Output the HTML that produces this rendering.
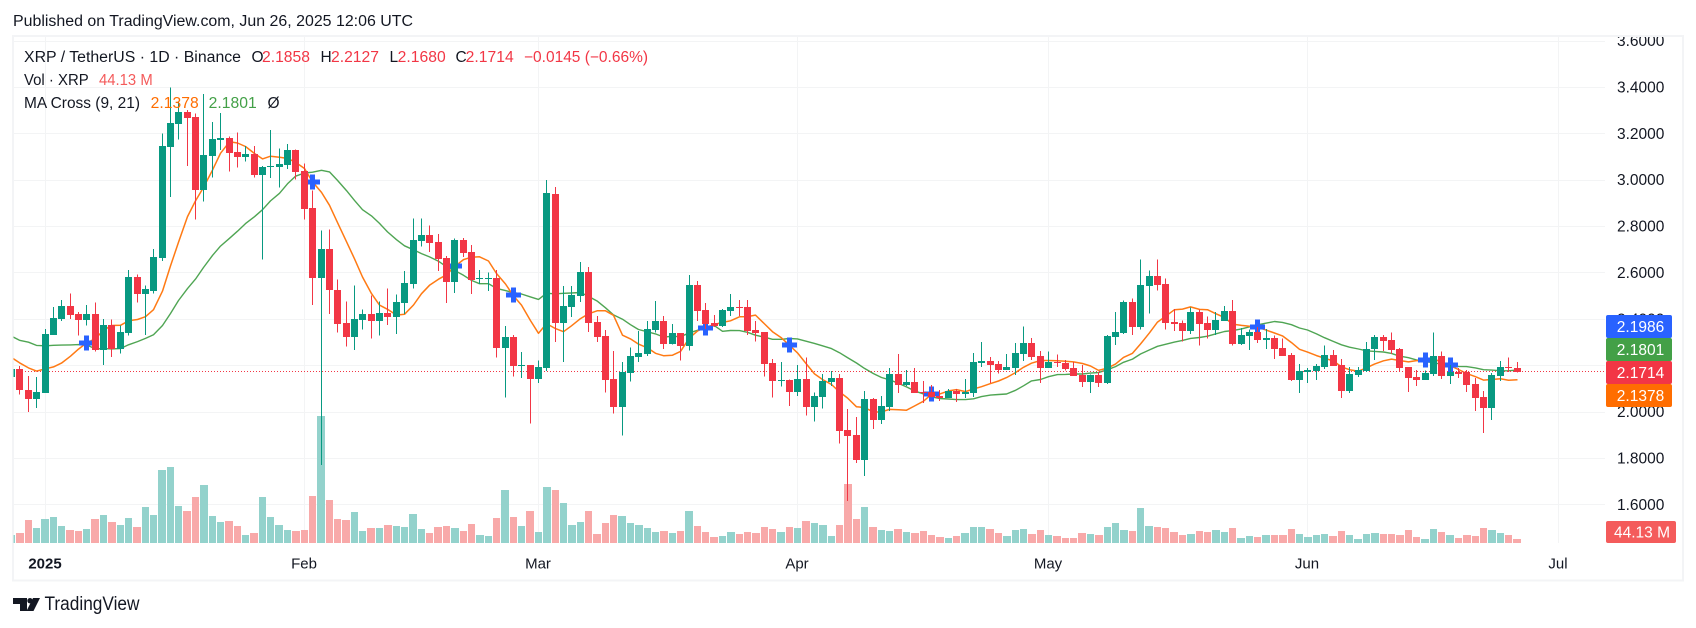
<!DOCTYPE html>
<html lang="en">
<head>
<meta charset="utf-8">
<title>XRP / TetherUS 1D chart</title>
<style>
html,body{margin:0;padding:0;background:#fff;width:1696px;height:628px;overflow:hidden}
svg{display:block}
text{font-family:"Liberation Sans",Arial,sans-serif;fill:#131722}
.leg{font-size:15.5px}
.axis{font-size:15.5px}
.tag{font-size:15.5px;fill:#fff;text-anchor:middle}
</style>
</head>
<body>
<svg id="chart" xmlns="http://www.w3.org/2000/svg" width="1696" height="628" viewBox="0 0 1696 628">
  <defs>
    <clipPath id="pane"><rect x="13.5" y="37" width="1591.5" height="506"/></clipPath>
    <clipPath id="axisClip"><rect x="1605" y="37" width="77" height="506"/></clipPath>
  </defs>
  <rect x="0" y="0" width="1696" height="628" fill="#ffffff"/>
  <text x="13" y="26" font-size="15.5" textLength="400" lengthAdjust="spacingAndGlyphs" fill="#222">Published on TradingView.com, Jun 26, 2025 12:06 UTC</text>
  <rect x="13" y="36" width="1670" height="544.5" fill="none" stroke="#f3f4f6" stroke-width="2"/>
  <g id="gridLayer"></g>
  <g id="plotLayer" clip-path="url(#pane)"></g>
  <g id="axisLayer" clip-path="url(#axisClip)"></g>
  <g id="timeLayer"></g>

  <g>
    <text class="leg" x="24" y="62" textLength="217" lengthAdjust="spacingAndGlyphs">XRP / TetherUS · 1D · Binance</text>
    <text class="leg" x="251.5" y="62">O</text>
    <text class="leg" x="262" y="62" style="fill:#f23645" textLength="48" lengthAdjust="spacingAndGlyphs">2.1858</text>
    <text class="leg" x="320.5" y="62">H</text>
    <text class="leg" x="331" y="62" style="fill:#f23645" textLength="48" lengthAdjust="spacingAndGlyphs">2.2127</text>
    <text class="leg" x="389.5" y="62">L</text>
    <text class="leg" x="397.7" y="62" style="fill:#f23645" textLength="48" lengthAdjust="spacingAndGlyphs">2.1680</text>
    <text class="leg" x="455.5" y="62">C</text>
    <text class="leg" x="465.7" y="62" style="fill:#f23645" textLength="48" lengthAdjust="spacingAndGlyphs">2.1714</text>
    <text class="leg" x="524" y="62" style="fill:#f23645" textLength="124" lengthAdjust="spacingAndGlyphs">−0.0145 (−0.66%)</text>
    <text class="leg" x="24" y="85" textLength="64.7" lengthAdjust="spacingAndGlyphs">Vol · XRP</text>
    <text class="leg" x="99" y="85" style="fill:#f45b5b" textLength="53.7" lengthAdjust="spacingAndGlyphs">44.13 M</text>
    <text class="leg" x="24" y="108" textLength="116" lengthAdjust="spacingAndGlyphs">MA Cross (9, 21)</text>
    <text class="leg" x="150.7" y="108" style="fill:#ff6d00" textLength="48" lengthAdjust="spacingAndGlyphs">2.1378</text>
    <text class="leg" x="208.7" y="108" style="fill:#43a047" textLength="48" lengthAdjust="spacingAndGlyphs">2.1801</text>
    <text class="leg" x="267.5" y="108">Ø</text>
  </g>

  <g>
    <rect x="1606" y="315" width="66" height="23" rx="2" fill="#2962ff"/>
    <text class="tag" x="1640.5" y="332">2.1986</text>
    <rect x="1606" y="338" width="66" height="23" rx="2" fill="#43a047"/>
    <text class="tag" x="1640.5" y="355">2.1801</text>
    <rect x="1606" y="361" width="66" height="23" rx="2" fill="#f23645"/>
    <text class="tag" x="1640.5" y="378">2.1714</text>
    <rect x="1606" y="384" width="66" height="23" rx="2" fill="#ff6d00"/>
    <text class="tag" x="1640.5" y="401">2.1378</text>
    <rect x="1606" y="521" width="70" height="22" rx="2" fill="#f45b5b"/>
    <text class="tag" x="1642" y="537.5">44.13 M</text>
  </g>

  <g>
    <path d="M13 598h14v13h-7v-7h-7z M33 598h7l-6.5 13h-7z" fill="#131722"/>
    <circle cx="30" cy="600.7" r="2.7" fill="#131722"/>
    <text x="44.5" y="610" font-size="19" textLength="95" lengthAdjust="spacingAndGlyphs">TradingView</text>
  </g>
</svg>

<script>
// Daily candles, first value is day -4 relative to Jan 1 2025 (Dec 28 2024)
const firstDay = -4;
const opens = [
2.147,2.184,2.093,2.055,2.08,2.331,2.40,2.456,2.42,2.396,
2.42,2.266,2.374,2.27,2.34,2.58,2.505,2.52,2.66,3.141,
3.239,3.291,3.27,2.954,3.10,3.17,3.179,3.118,3.096,3.109,
3.019,3.055,3.053,3.062,3.127,3.036,2.876,2.574,2.70,2.526,
2.383,2.322,2.396,2.42,2.39,2.426,2.409,2.47,2.552,2.734,
2.761,2.731,2.662,2.558,2.74,2.688,2.572,2.572,2.575,2.273,
2.321,2.195,2.2,2.139,2.187,2.938,2.381,2.45,2.498,2.601,
2.385,2.325,2.139,2.018,2.165,2.234,2.247,2.351,2.39,2.29,
2.338,2.282,2.545,2.437,2.381,2.368,2.433,2.45,2.45,2.351,
2.342,2.208,2.131,2.135,2.083,2.139,2.018,2.062,2.126,2.144,
1.92,1.899,1.791,2.055,1.964,2.02,2.163,2.115,2.128,2.085,
2.085,2.067,2.059,2.089,2.076,2.08,2.21,2.219,2.206,2.18,
2.188,2.249,2.296,2.24,2.188,2.214,2.21,2.188,2.158,2.128,
2.158,2.124,2.322,2.34,2.474,2.366,2.543,2.586,2.551,2.387,
2.383,2.348,2.43,2.383,2.353,2.392,2.435,2.292,2.327,2.344,
2.309,2.318,2.275,2.245,2.137,2.171,2.176,2.193,2.245,2.201,
2.089,2.158,2.176,2.27,2.322,2.309,2.27,2.193,2.15,2.137,
2.163,2.24,2.154,2.171,2.171,2.119,2.063,2.016,2.154,2.193,
2.1858];
const highs = [
2.19,2.197,2.154,2.15,2.357,2.45,2.48,2.51,2.43,2.46,
2.47,2.40,2.396,2.37,2.61,2.59,2.543,2.70,3.20,3.397,
3.338,3.30,3.285,3.369,3.248,3.287,3.187,3.204,3.144,3.144,
3.058,3.213,3.135,3.153,3.131,3.07,2.954,2.781,2.785,2.57,
2.474,2.543,2.44,2.50,2.474,2.53,2.504,2.606,2.833,2.833,
2.803,2.766,2.671,2.747,2.748,2.718,2.61,2.60,2.61,2.368,
2.329,2.256,2.2,2.221,2.999,2.969,2.541,2.541,2.645,2.623,
2.411,2.351,2.26,2.213,2.277,2.347,2.39,2.476,2.411,2.377,
2.338,2.588,2.563,2.468,2.416,2.442,2.506,2.48,2.48,2.39,
2.342,2.226,2.213,2.139,2.2,2.234,2.083,2.161,2.174,2.161,
2.012,1.977,2.089,2.059,2.068,2.188,2.249,2.18,2.188,2.132,
2.115,2.093,2.098,2.098,2.141,2.253,2.30,2.236,2.219,2.249,
2.296,2.366,2.318,2.262,2.258,2.245,2.223,2.214,2.201,2.16,
2.171,2.331,2.43,2.478,2.487,2.655,2.608,2.655,2.573,2.443,
2.392,2.448,2.439,2.409,2.43,2.456,2.482,2.36,2.353,2.364,
2.357,2.327,2.314,2.253,2.206,2.188,2.206,2.284,2.266,2.227,
2.193,2.193,2.30,2.331,2.331,2.34,2.275,2.193,2.18,2.176,
2.34,2.258,2.20,2.188,2.18,2.145,2.089,2.167,2.219,2.232,
2.2127];
const lows = [
2.14,2.073,1.998,2.016,2.08,2.33,2.39,2.40,2.327,2.37,
2.258,2.20,2.236,2.25,2.327,2.47,2.331,2.51,2.65,2.925,
3.174,3.058,2.829,2.906,3.01,3.127,3.036,3.053,3.079,3.01,
2.656,3.006,2.967,3.045,3.0,2.829,2.46,1.77,2.42,2.34,
2.28,2.266,2.353,2.314,2.327,2.374,2.335,2.42,2.53,2.712,
2.688,2.606,2.468,2.511,2.666,2.506,2.55,2.519,2.234,2.061,
2.152,2.144,1.949,2.122,2.174,2.299,2.213,2.407,2.472,2.342,
2.299,2.083,1.992,1.897,2.13,2.213,2.239,2.34,2.269,2.29,
2.221,2.264,2.39,2.355,2.364,2.364,2.411,2.411,2.329,2.303,
2.152,2.061,2.109,2.023,2.066,1.984,1.958,2.014,2.11,1.863,
1.615,1.779,1.722,1.925,1.947,2.003,2.08,2.111,2.08,2.037,
2.06,2.046,2.059,2.042,2.059,2.063,2.193,2.124,2.163,2.18,
2.158,2.219,2.223,2.124,2.188,2.193,2.176,2.154,2.106,2.08,
2.106,2.119,2.288,2.335,2.331,2.353,2.422,2.521,2.353,2.348,
2.301,2.335,2.284,2.314,2.331,2.392,2.284,2.288,2.266,2.296,
2.27,2.227,2.24,2.132,2.08,2.124,2.137,2.184,2.197,2.059,
2.08,2.15,2.17,2.223,2.262,2.249,2.171,2.085,2.111,2.137,
2.154,2.141,2.119,2.145,2.085,2.003,1.908,1.964,2.132,2.171,
2.168];
const closes = [
2.184,2.091,2.055,2.085,2.335,2.404,2.456,2.417,2.396,2.42,
2.266,2.374,2.27,2.344,2.58,2.505,2.527,2.665,3.145,3.243,
3.291,3.265,2.954,3.105,3.174,3.179,3.114,3.096,3.109,3.019,
3.053,3.06,3.066,3.127,3.032,2.872,2.574,2.70,2.522,2.378,
2.322,2.40,2.42,2.39,2.426,2.409,2.474,2.556,2.738,2.76,
2.727,2.658,2.558,2.74,2.684,2.567,2.575,2.575,2.273,2.321,
2.195,2.2,2.139,2.191,2.943,2.381,2.455,2.502,2.601,2.381,
2.32,2.135,2.018,2.169,2.239,2.252,2.355,2.39,2.29,2.338,
2.282,2.545,2.433,2.377,2.368,2.437,2.45,2.447,2.347,2.338,
2.204,2.131,2.135,2.083,2.139,2.018,2.066,2.131,2.144,1.915,
1.895,1.792,2.055,1.964,2.024,2.163,2.115,2.128,2.08,2.079,
2.063,2.059,2.089,2.076,2.085,2.214,2.219,2.201,2.18,2.193,
2.253,2.296,2.236,2.188,2.214,2.21,2.184,2.154,2.128,2.158,
2.124,2.327,2.344,2.474,2.366,2.547,2.586,2.547,2.383,2.379,
2.348,2.43,2.379,2.353,2.396,2.435,2.292,2.331,2.344,2.309,
2.318,2.27,2.24,2.137,2.176,2.18,2.197,2.245,2.197,2.089,
2.163,2.18,2.27,2.322,2.305,2.266,2.188,2.145,2.137,2.167,
2.24,2.154,2.171,2.163,2.115,2.059,2.016,2.158,2.193,2.188,
2.1714];
// Volume in millions of XRP
const volumes = [
88,110,253,165,264,286,187,143,132,154,
264,308,231,198,275,176,396,308,803,836,
407,352,506,638,297,231,242,187,88,110,
506,286,198,143,132,143,517,1397,473,264,
253,341,132,165,165,198,187,176,319,154,
110,176,187,165,132,209,88,77,275,583,
286,187,352,121,616,583,440,198,231,352,
99,220,308,297,220,198,165,121,132,110,
132,352,187,121,66,77,121,99,121,110,
176,154,121,176,165,242,220,198,77,198,
649,264,396,176,143,132,154,121,110,132,
88,66,55,77,110,176,176,154,110,77,
143,154,99,143,88,77,55,55,110,99,
88,176,220,143,132,385,187,176,165,121,
88,99,132,121,143,121,165,55,77,66,
88,88,88,154,99,66,88,99,77,132,
88,44,99,110,99,99,88,143,66,44,
154,121,88,55,88,77,165,143,110,88,
44.13];
// Closes before the visible range (20 days), estimated from the MA lines at the left edge
const priorCloses = [2.47,2.225,2.375,2.375,2.36,2.43,2.40,2.375,2.44,2.63,2.35,2.30,2.30,2.25,2.21,2.245,2.33,2.31,2.15,2.12];
const maFastLength = 9;
const maSlowLength = 21;
const crossDays = [5,32,49,56,79,89,106,145,165,168];
const crossPrices = [2.295,2.991,2.626,2.501,2.362,2.289,2.075,2.364,2.222,2.2];
const priceTicks = [3.6,3.4,3.2,3.0,2.8,2.6,2.4,2.2,2.0,1.8,1.6];
const monthLabels = ["2025","Feb","Mar","Apr","May","Jun","Jul"];
const monthDays = [0,31,59,90,120,151,181];
const lastPrice = 2.1714;

const UP = "#089981", DOWN = "#f23645", VOL_UP = "#93d2cc", VOL_DOWN = "#f8a9a9", GRID = "#f3f4f5";
const NS = "http://www.w3.org/2000/svg";
const gridLayer = document.getElementById("gridLayer");
const plotLayer = document.getElementById("plotLayer");
const axisLayer = document.getElementById("axisLayer");
const timeLayer = document.getElementById("timeLayer");

function xScale(day){ return Math.floor(45 + 8.364 * day) + 0.5; }
function volLeft(day){ return Math.round(41.3 + 8.364 * day); }
function yScale(price){ return 40.5 + (3.6 - price) * 231.9; }
function volHeight(v){ return v / 11; }
function make(tag, attrs, parent){
  const el = document.createElementNS(NS, tag);
  for (const k in attrs) el.setAttribute(k, attrs[k]);
  parent.appendChild(el);
  return el;
}
function sma(series, length, index){
  let sum = 0;
  for (let i = index - length + 1; i <= index; i++) sum += series[i];
  return sum / length;
}

// grid
priceTicks.forEach(function(p){
  const y = Math.round(yScale(p)) + 0.5;
  const el = make("line", {x1:13.5, x2:1605, y1:y, y2:y, stroke:GRID, "stroke-width":1}, gridLayer);
  
  
});
monthDays.forEach(function(d){
  const x = xScale(d);
  const el = make("line", {x1:x, x2:x, y1:37, y2:543, stroke:GRID, "stroke-width":1}, gridLayer);
  
  
});

// volume
volumes.forEach(function(v, i){
  const d = firstDay + i;
  const h = volHeight(v);
  const left = volLeft(d);
  const el = make("rect", {x:left, y:543 - h, width:volLeft(d + 1) - 1 - left, height:h, fill:closes[i] >= opens[i] ? VOL_UP : VOL_DOWN, "shape-rendering":"crispEdges"}, plotLayer);
  
  
});

// moving averages
const allCloses = priorCloses.concat(closes);
function maPoints(length){
  const pts = [];
  closes.forEach(function(c, i){
    const v = sma(allCloses, length, i + priorCloses.length);
    pts.push(xScale(firstDay + i).toFixed(1) + "," + yScale(v).toFixed(1));
  });
  return pts.join(" ");
}
const maSlowLine = make("polyline", {points:maPoints(maSlowLength), fill:"none", stroke:"#4fa553", "stroke-width":1.4, "stroke-linejoin":"round"}, plotLayer);


const maFastLine = make("polyline", {points:maPoints(maFastLength), fill:"none", stroke:"#ff7a14", "stroke-width":1.5, "stroke-linejoin":"round"}, plotLayer);



// cross markers
crossDays.forEach(function(d, i){
  const x = xScale(d), y = Math.round(yScale(crossPrices[i]));
  const g = make("g", {fill:"#2962ff", "shape-rendering":"crispEdges"}, plotLayer);
  
  
  make("rect", {x:x - 7.5, y:y - 2.5, width:15, height:5}, g);
  make("rect", {x:x - 2.5, y:y - 7.5, width:5, height:15}, g);
});

// last price line
const priceLine = make("line", {x1:13, x2:1605, y1:Math.floor(yScale(lastPrice)) + 0.5, y2:Math.floor(yScale(lastPrice)) + 0.5, stroke:"#f23645", "stroke-width":1, "stroke-dasharray":"1 2", "shape-rendering":"crispEdges"}, plotLayer);



// candles
closes.forEach(function(c, i){
  const d = firstDay + i, o = opens[i];
  const col = c >= o ? UP : DOWN;
  const x = xScale(d);
  const top = Math.round(yScale(Math.max(o, c)));
  const bot = Math.max(top + 1, Math.round(yScale(Math.min(o, c))));
  const g = make("g", {"shape-rendering":"crispEdges"}, plotLayer);
  
  
  const hy = yScale(highs[i]), ly = yScale(lows[i]);
  make("rect", {x:x - 0.5, y:hy, width:1, height:ly - hy, fill:col}, g);
  make("rect", {x:x - 3.5, y:top, width:7, height:bot - top, fill:col}, g);
});

// price axis labels
priceTicks.forEach(function(p){
  const t = make("text", {x:1617, y:yScale(p) + 5.5, class:"axis"}, axisLayer);
  
  
  t.textContent = p.toFixed(4);
});

// time axis labels
monthLabels.forEach(function(label, i){
  const t = make("text", {x:xScale(monthDays[i]) - 0.5, y:568.3, "text-anchor":"middle", "font-size":"15", "font-weight":label === "2025" ? "700" : "400"}, timeLayer);
  
  
  t.textContent = label;
});
</script>
</body>
</html>
